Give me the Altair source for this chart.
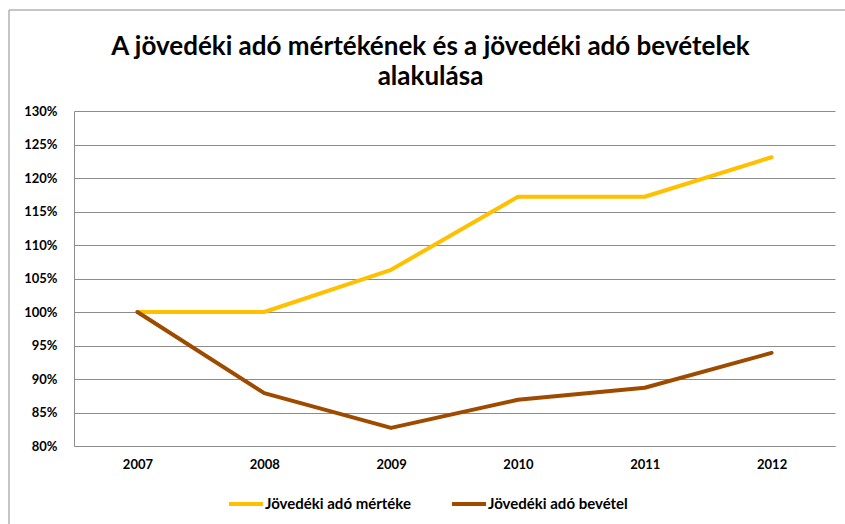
import altair as alt
import pandas as pd

years = ["2007", "2008", "2009", "2010", "2011", "2012"]
mertek = [1.00, 1.00, 1.063, 1.172, 1.172, 1.231]
bevetel = [1.00, 0.879, 0.827, 0.869, 0.887, 0.939]
series_names = ["Jövedéki adó mértéke", "Jövedéki adó bevétel"]
colors = ["#FFC000", "#9E4B00"]
y_ticks = [0.80, 0.85, 0.90, 0.95, 1.00, 1.05, 1.10, 1.15, 1.20, 1.25, 1.30]

rows = []
for y, a, b in zip(years, mertek, bevetel):
    rows.append({"Év": y, "Sorozat": series_names[0], "Érték": a})
    rows.append({"Év": y, "Sorozat": series_names[1], "Érték": b})
df = pd.DataFrame(rows)

FONT = "Lato"

border = alt.Chart(pd.DataFrame({"k": [0]})).mark_rect(
    fill=None, stroke="#8c8c8c", strokeWidth=1
).encode(
    x=alt.value(-65), x2=alt.value(900), y=alt.value(-101), y2=alt.value(700)
)

lines = alt.Chart(df).mark_line(strokeWidth=4, strokeCap="round", strokeJoin="round").encode(
    x=alt.X("Év:O", sort=years, scale=alt.Scale(type="point", padding=0.5),
            axis=alt.Axis(title=None, labelAngle=0, ticks=False, domain=True,
                          domainColor="#8c8c8c", labelPadding=12, grid=False)),
    y=alt.Y("Érték:Q", scale=alt.Scale(domain=[0.8, 1.3], nice=False, zero=False),
            axis=alt.Axis(title=None, format=".0%", values=y_ticks, ticks=False,
                          domain=True, domainColor="#8c8c8c", labelPadding=17,
                          grid=True, gridColor="#8c8c8c", gridWidth=1)),
    color=alt.Color("Sorozat:N", sort=series_names,
                    scale=alt.Scale(domain=series_names, range=colors),
                    legend=alt.Legend(title=None, orient="none", direction="horizontal",
                                      legendX=153, legendY=374,
                                      symbolType="stroke", symbolSize=1156,
                                      symbolStrokeWidth=4, labelOffset=0,
                                      columnPadding=33)),
)

chart = alt.layer(border, lines).properties(
    width=761, height=335,
    background="white",
    title=alt.TitleParams(
        text=["A jövedéki adó mértékének és a jövedéki adó bevételek", "alakulása"],
        anchor="middle", fontSize=26, font=FONT, fontWeight="bold", color="#000000",
        lineHeight=30, offset=-80, dx=-24, frame="group",
    ),
    autosize=alt.AutoSizeParams(type="none"),
    padding={"left": 74, "top": 111, "right": 10, "bottom": 78},
).configure_view(stroke=None).configure_axis(
    labelFont=FONT, labelFontSize=13, labelFontWeight="bold", labelColor="#000000"
).configure_legend(
    labelFont=FONT, labelFontSize=15, labelFontWeight="bold", labelColor="#000000"
)

chart.save("out.html", embed_options={"renderer": "svg", "actions": False})
